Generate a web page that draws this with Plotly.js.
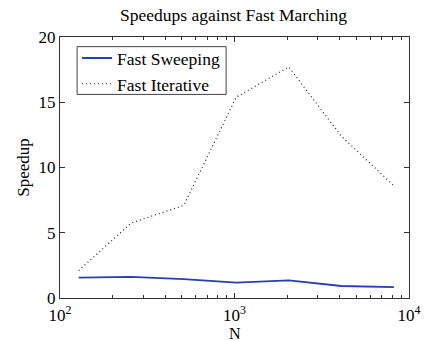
<!DOCTYPE html>
<html>
<head>
<meta charset="utf-8">
<script src="https://cdn.plot.ly/plotly-3.0.1.min.js"></script>
<style>html,body{margin:0;padding:0;background:#fff;}#chart{width:427px;height:341px;}</style>
</head>
<body>
<div id="chart"></div>
<script>
// Grid sizes and measured speedups relative to Fast Marching
const gridSizes = [128, 256, 512, 1024, 2048, 4096, 8192];
const fastSweeping = [1.56, 1.62, 1.45, 1.18, 1.35, 0.92, 0.84];
const fastIterative = [2.1, 5.75, 7.1, 15.4, 17.7, 12.4, 8.6];

const xMajor = [100, 1000, 10000];
const xMajorText = ['10<sup>2</sup>', '10<sup>3</sup>', '10<sup>4</sup>'];
const xMinor = [200, 300, 400, 500, 600, 700, 800, 900, 2000, 3000, 4000, 5000, 6000, 7000, 8000, 9000];
const yTicks = [0, 5, 10, 15, 20];

const family = 'Liberation Serif, Times New Roman, serif';
const f = (size) => ({family: family, size: size, color: '#000'});

const traces = [
  {x: gridSizes, y: fastSweeping, name: 'Fast Sweeping', mode: 'lines',
   line: {color: '#2a3db5', width: 1.8}},
  {x: gridSizes, y: fastIterative, name: 'Fast Iterative', mode: 'lines',
   line: {color: '#222', width: 1.2, dash: '1px,3px'}}
];

const axisCommon = {
  showline: true, linecolor: '#333', linewidth: 1, mirror: 'ticks',
  ticks: 'inside', ticklen: 5, tickcolor: '#333', showgrid: false, zeroline: false,
  tickfont: f(17)
};

const layout = {
  width: 427, height: 341,
  margin: {l: 60, r: 18, t: 37, b: 43},
  paper_bgcolor: '#fff', plot_bgcolor: '#fff',
  font: f(16),
  title: {text: 'Speedups against Fast Marching', x: 0.547, xanchor: 'center', y: 0.975, yanchor: 'top',
          font: f(17.5)},
  xaxis: Object.assign({}, axisCommon, {
    type: 'log', range: [2, 4], tickmode: 'array', tickvals: xMajor, ticktext: xMajorText,
    ticklabelstandoff: 2,
    minor: {tickmode: 'array', tickvals: xMinor, ticks: 'inside', ticklen: 3, tickcolor: '#333'}
  }),
  yaxis: Object.assign({}, axisCommon, {
    range: [0, 20], tickmode: 'array', tickvals: yTicks,
    title: {text: 'Speedup', standoff: 4, font: f(17)}
  }),
  showlegend: true,
  legend: {x: 0.049, y: 0.988, xanchor: 'left', yanchor: 'top',
           bgcolor: 'rgba(0,0,0,0)', borderwidth: 0,
           font: f(17.5), tracegroupgap: 0, itemwidth: 30},
  // x-axis label, set just below the tick labels
  annotations: [{text: 'N', xref: 'paper', yref: 'paper', x: 0.5, y: -0.098,
                 xanchor: 'center', yanchor: 'top', showarrow: false, borderpad: 0, font: f(16)}],
  // frame around the legend entries
  shapes: [{type: 'rect', xref: 'paper', yref: 'paper', x0: 0.049, x1: 0.476, y0: 0.780, y1: 0.963,
            line: {color: '#444', width: 1}, fillcolor: '#fff', layer: 'below'}]
};

Plotly.newPlot('chart', traces, layout, {displayModeBar: false, staticPlot: true});
</script>
</body>
</html>
